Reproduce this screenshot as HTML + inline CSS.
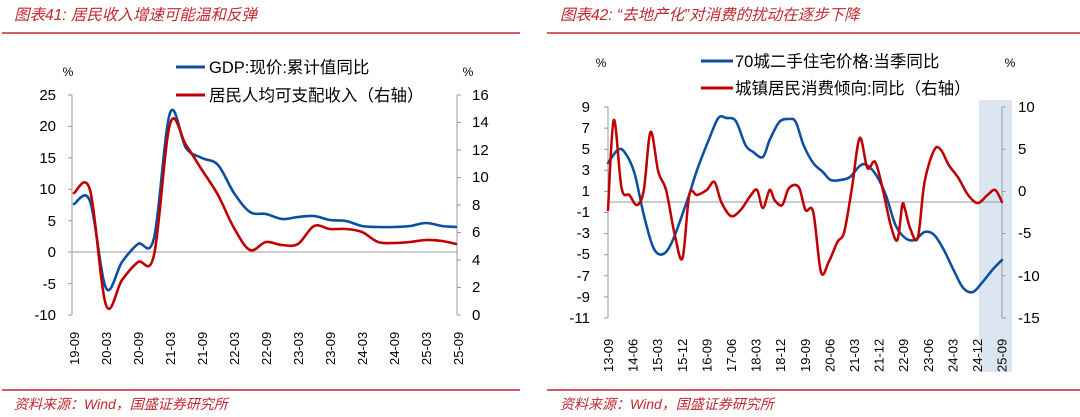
<!DOCTYPE html>
<html><head><meta charset="utf-8"><style>
html,body{margin:0;padding:0;background:#fff;}
svg{display:block;font-family:"Liberation Sans","Noto Sans CJK SC",sans-serif;}
</style></head><body>
<svg id="s" width="1080" height="417" viewBox="0 0 1080 417" xmlns="http://www.w3.org/2000/svg">
<text x="14" y="20" font-size="15.5" font-style="italic" fill="#c0282e">图表41:  居民收入增速可能温和反弹</text>
<text x="560" y="20" font-size="15.5" font-style="italic" fill="#c0282e">图表42:  “去地产化”对消费的扰动在逐步下降</text>
<line x1="2" y1="33" x2="520" y2="33" stroke="#c0282e" stroke-width="1.5"/>
<line x1="547" y1="33" x2="1080" y2="33" stroke="#c0282e" stroke-width="1.5"/>
<line x1="2" y1="390" x2="520" y2="390" stroke="#c0282e" stroke-width="1.5"/>
<line x1="547" y1="390" x2="1080" y2="390" stroke="#c0282e" stroke-width="1.5"/>
<text x="14" y="409" font-size="14" font-style="italic" fill="#c0282e">资料来源：Wind，国盛证券研究所</text>
<text x="560" y="409" font-size="14" font-style="italic" fill="#c0282e">资料来源：Wind，国盛证券研究所</text>

<g font-size="15" fill="#000">
<text x="68" y="76" font-size="12" text-anchor="middle">%</text>
<text x="468" y="76" font-size="12" text-anchor="middle">%</text>
<line x1="176" y1="67" x2="205" y2="67" stroke="#0b4ea2" stroke-width="3"/>
<text x="209" y="73" font-size="16.5">GDP:现价:累计值同比</text>
<line x1="176" y1="95" x2="205" y2="95" stroke="#c00000" stroke-width="3"/>
<text x="209" y="101" font-size="16.5">居民人均可支配收入（右轴）</text>
<g text-anchor="end">
<text x="56" y="100">25</text><text x="56" y="131">20</text><text x="56" y="163">15</text>
<text x="56" y="194">10</text><text x="56" y="226">5</text><text x="56" y="257">0</text>
<text x="56" y="289">-5</text><text x="56" y="320">-10</text>
</g>
<g>
<text x="472" y="100">16</text><text x="472" y="127">14</text><text x="472" y="155">12</text>
<text x="472" y="182">10</text><text x="472" y="210">8</text><text x="472" y="237">6</text>
<text x="472" y="265">4</text><text x="472" y="292">2</text><text x="472" y="320">0</text>
</g>
</g>
<g stroke="#999" stroke-width="1" fill="none">
<path d="M72 95 V315 M72 95 h-4 M72 126.4 h-4 M72 157.9 h-4 M72 189.3 h-4 M72 220.7 h-4 M72 252.1 h-4 M72 283.6 h-4 M72 315 h-4"/>
<path d="M457 95 V315 M457 95 h4 M457 122.5 h4 M457 150 h4 M457 177.5 h4 M457 205 h4 M457 232.5 h4 M457 260 h4 M457 287.5 h4 M457 315 h4"/>
<line x1="72" y1="252" x2="457" y2="252"/>
</g>
<g font-size="13" fill="#000">
<text transform="translate(79,365) rotate(-90)">19-09</text>
<text transform="translate(111,365) rotate(-90)">20-03</text>
<text transform="translate(143,365) rotate(-90)">20-09</text>
<text transform="translate(175,365) rotate(-90)">21-03</text>
<text transform="translate(207,365) rotate(-90)">21-09</text>
<text transform="translate(239,365) rotate(-90)">22-03</text>
<text transform="translate(271,365) rotate(-90)">22-09</text>
<text transform="translate(303,365) rotate(-90)">23-03</text>
<text transform="translate(335,365) rotate(-90)">23-09</text>
<text transform="translate(367,365) rotate(-90)">24-03</text>
<text transform="translate(399,365) rotate(-90)">24-09</text>
<text transform="translate(431,365) rotate(-90)">25-03</text>
<text transform="translate(463,365) rotate(-90)">25-09</text>
</g>
<g fill="none" stroke-width="2.6" stroke-linejoin="round" stroke-linecap="round">
<polyline class="sm" stroke="#0b4ea2" points="74,204 90,201 106,288 122,262 138,244 154,238 170,113 186,148 202,158 218,165 234,193 250,212 266,214 282,219 298,217 314,216 330,220 346,221 362,226 378,227 394,227 410,226 426,223 442,226 456,227"/>
<polyline class="sm" stroke="#c00000" points="74,193 90,190 106,305 122,280 138,262 154,255 170,124 186,145 202,170 218,195 234,228 250,250 266,242 282,245 298,244 314,226 330,229 346,229 362,232 378,242 394,243 410,242 426,240 442,241 456,244"/>
</g>

<rect x="979" y="100" width="33" height="272" fill="#dce6f1"/>
<g font-size="15" fill="#000">
<text x="601" y="67" font-size="12" text-anchor="middle">%</text>
<text x="1010" y="67" font-size="12" text-anchor="middle">%</text>
<line x1="701" y1="61" x2="733" y2="61" stroke="#0b4ea2" stroke-width="3"/>
<text x="735" y="67" font-size="16.5">70城二手住宅价格:当季同比</text>
<line x1="701" y1="88" x2="733" y2="88" stroke="#c00000" stroke-width="3"/>
<text x="735" y="94" font-size="16.5">城镇居民消费倾向:同比（右轴）</text>
<g text-anchor="end">
<text x="590" y="112">9</text><text x="590" y="133">7</text><text x="590" y="154">5</text>
<text x="590" y="175">3</text><text x="590" y="196">1</text><text x="590" y="217">-1</text>
<text x="590" y="238">-3</text><text x="590" y="259">-5</text><text x="590" y="281">-7</text>
<text x="590" y="302">-9</text><text x="590" y="323">-11</text>
</g>
<g>
<text x="1018" y="112">10</text><text x="1018" y="154">5</text><text x="1018" y="196">0</text>
<text x="1018" y="238">-5</text><text x="1018" y="281">-10</text><text x="1018" y="323">-15</text>
</g>
</g>
<g stroke="#999" stroke-width="1" fill="none">
<path d="M608 107 V318 M608 107 h-4 M608 128.1 h-4 M608 149.2 h-4 M608 170.3 h-4 M608 191.4 h-4 M608 212.5 h-4 M608 233.6 h-4 M608 254.7 h-4 M608 275.8 h-4 M608 296.9 h-4 M608 318 h-4"/>
<path d="M1002 107 V318 M1002 107 h4 M1002 149.2 h4 M1002 191.4 h4 M1002 233.6 h4 M1002 275.8 h4 M1002 318 h4"/>
<line x1="608" y1="202" x2="1002" y2="202"/>
</g>
<g font-size="13" fill="#000">
<text transform="translate(613,372) rotate(-90)">13-09</text>
<text transform="translate(637.6,372) rotate(-90)">14-06</text>
<text transform="translate(662.2,372) rotate(-90)">15-03</text>
<text transform="translate(686.8,372) rotate(-90)">15-12</text>
<text transform="translate(711.4,372) rotate(-90)">16-09</text>
<text transform="translate(736,372) rotate(-90)">17-06</text>
<text transform="translate(760.6,372) rotate(-90)">18-03</text>
<text transform="translate(785.2,372) rotate(-90)">18-12</text>
<text transform="translate(809.8,372) rotate(-90)">19-09</text>
<text transform="translate(834.4,372) rotate(-90)">20-06</text>
<text transform="translate(859,372) rotate(-90)">21-03</text>
<text transform="translate(883.6,372) rotate(-90)">21-12</text>
<text transform="translate(908.2,372) rotate(-90)">22-09</text>
<text transform="translate(932.8,372) rotate(-90)">23-06</text>
<text transform="translate(957.4,372) rotate(-90)">24-03</text>
<text transform="translate(982,372) rotate(-90)">24-12</text>
<text transform="translate(1006.6,372) rotate(-90)">25-09</text>
</g>
<g fill="none" stroke-width="2.6" stroke-linejoin="round" stroke-linecap="round" transform="translate(608,0) scale(0.968,1) translate(-608,0)">
<polyline class="sm" stroke="#0b4ea2" points="608,163 618,150 625,152 635,172 645,215 655,248 665,254 675,240 690,200 700,170 712,140 722,118 730,118 740,121 750,145 758,152 768,157 775,140 785,122 795,119 802,122 810,145 820,163 830,172 838,180 848,180 858,177 868,166 875,165 885,175 895,195 905,225 915,238 925,240 935,232 945,235 955,250 965,270 975,288 985,292 995,282 1005,270 1015,260"/>
<polyline class="sm" stroke="#c00000" points="608,210 614,120 622,188 630,195 638,205 645,190 652,132 660,172 668,190 677,235 685,258 692,195 700,195 710,190 718,182 725,202 735,216 745,210 755,196 762,190 768,208 775,190 780,200 788,205 795,188 805,187 812,210 820,212 828,272 836,262 845,242 852,232 860,188 868,138 876,168 884,162 892,190 900,225 907,240 912,205 915,210 920,228 928,238 935,182 945,150 952,150 960,165 970,178 980,195 990,203 1000,195 1008,190 1015,202"/>
</g>
</svg>
<script>
document.querySelectorAll('polyline.sm').forEach(function(pl){
  var p=pl.getAttribute('points').trim().split(/\s+/).map(function(s){return s.split(',').map(Number);});
  var d='M'+p[0][0]+' '+p[0][1];
  for(var i=0;i<p.length-1;i++){
    var p0=p[i-1]||p[i],p1=p[i],p2=p[i+1],p3=p[i+2]||p2,t=6;
    d+=' C'+(p1[0]+(p2[0]-p0[0])/t)+' '+(p1[1]+(p2[1]-p0[1])/t)+' '+(p2[0]-(p3[0]-p1[0])/t)+' '+(p2[1]-(p3[1]-p1[1])/t)+' '+p2[0]+' '+p2[1];
  }
  var path=document.createElementNS('http://www.w3.org/2000/svg','path');
  path.setAttribute('d',d);path.setAttribute('stroke',pl.getAttribute('stroke'));
  pl.parentNode.replaceChild(path,pl);
});
</script>
</body></html>
